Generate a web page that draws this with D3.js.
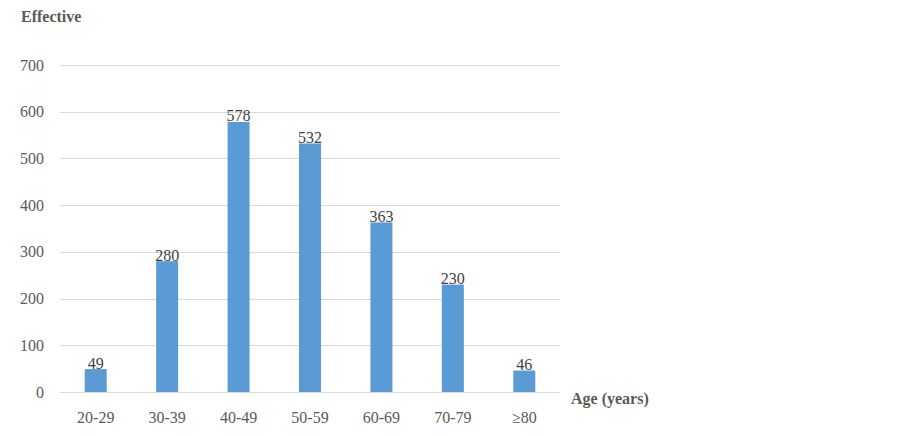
<!DOCTYPE html>
<html><head><meta charset="utf-8">
<script src="https://cdn.jsdelivr.net/npm/d3@7"></script>
<style>body{margin:0;background:#fff}svg{display:block}</style>
</head><body>
<svg id="c" width="903" height="436"></svg>
<script>
const categories = ["20-29","30-39","40-49","50-59","60-69","70-79","≥80"];
const values = [49,280,578,532,363,230,46];
const yTicks = [0,100,200,300,400,500,600,700];

const svg = d3.select("#c");
const font = "'Liberation Serif','Times New Roman',serif";
const x = d3.scaleBand().domain(categories).range([60,560]).paddingInner(0.69).paddingOuter(0.345);
const y = d3.scaleLinear().domain([0,700]).range([392,65]);

// gridlines
svg.append("g").selectAll("line").data(yTicks).join("line")
  .attr("x1",60).attr("x2",560)
  .attr("y1",d=>Math.round(y(d))+0.5).attr("y2",d=>Math.round(y(d))+0.5)
  .attr("stroke","#d9d9d9").attr("stroke-width",1);

// y tick labels
svg.append("g").selectAll("text").data(yTicks).join("text")
  .attr("x",44).attr("y",d=>y(d)+5.5)
  .attr("text-anchor","end").attr("font-family",font).attr("font-size",16)
  .attr("fill","#595959").text(d=>d);

// bars
const bw = 22;
svg.append("g").selectAll("rect").data(values).join("rect")
  .attr("x",(d,i)=>x(categories[i])+x.bandwidth()/2-bw/2)
  .attr("width",bw)
  .attr("y",d=>y(d)).attr("height",d=>y(0)-y(d))
  .attr("fill","#5b9bd5");

// data labels
svg.append("g").selectAll("text").data(values).join("text")
  .attr("x",(d,i)=>x(categories[i])+x.bandwidth()/2)
  .attr("y",d=>y(d)-0.5)
  .attr("text-anchor","middle").attr("font-family",font).attr("font-size",16)
  .attr("fill","#404040").text(d=>d);

// x labels
svg.append("g").selectAll("text").data(categories).join("text")
  .attr("x",d=>x(d)+x.bandwidth()/2).attr("y",423)
  .attr("text-anchor","middle").attr("font-family",font).attr("font-size",16)
  .attr("fill","#595959").text(d=>d);

// axis titles
svg.append("text").attr("x",21).attr("y",22).attr("font-family",font)
  .attr("font-size",16).attr("font-weight","bold").attr("fill","#595959").text("Effective");
svg.append("text").attr("x",571).attr("y",404).attr("font-family",font)
  .attr("font-size",16).attr("font-weight","bold").attr("fill","#595959").text("Age (years)");
</script>
</body></html>
